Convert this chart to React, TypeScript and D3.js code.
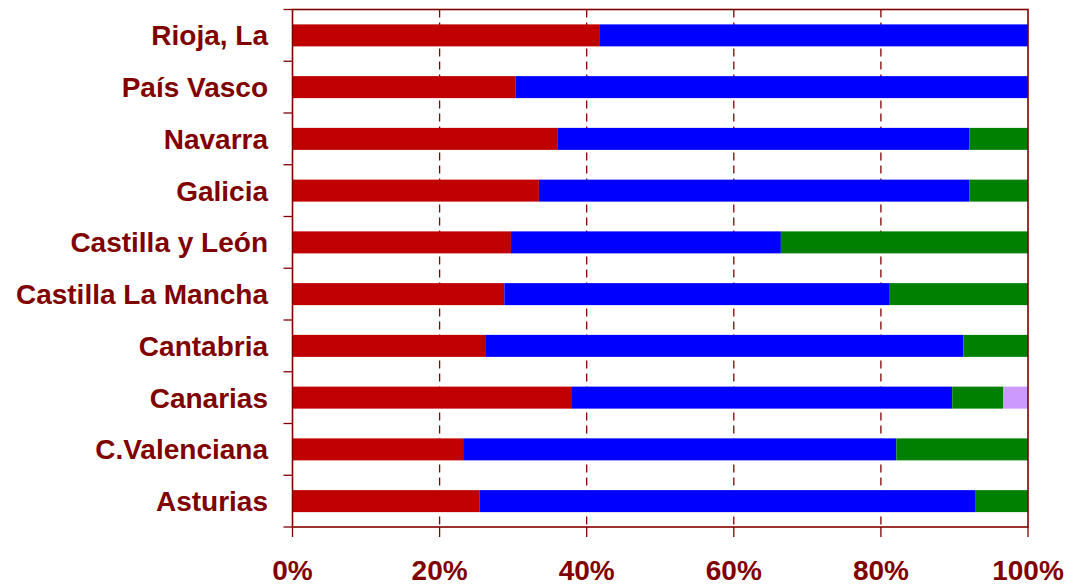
import * as d3 from "d3";
import React, { useEffect, useRef } from "react";

// categories, bottom to top as in the chart
const regions = [
  "Asturias",
  "C.Valenciana",
  "Canarias",
  "Cantabria",
  "Castilla La Mancha",
  "Castilla y León",
  "Galicia",
  "Navarra",
  "País Vasco",
  "Rioja, La",
];

// series shares (%), same order as regions
const serieRed = [25.4, 23.2, 38.0, 26.2, 28.8, 29.7, 33.5, 36.0, 30.3, 41.7];
const serieBlue = [67.4, 58.9, 51.7, 65.0, 52.3, 36.7, 58.5, 56.0, 69.7, 58.3];
const serieGreen = [7.2, 17.9, 6.9, 8.8, 18.9, 33.6, 8.0, 8.0, 0, 0];
const serieLilac = [0, 0, 3.4, 0, 0, 0, 0, 0, 0, 0];

const tickValues = [0, 0.2, 0.4, 0.6, 0.8, 1];

const seriesKeys = ["red", "blue", "green", "lilac"];
const colors = ["#C00000", "#0000FF", "#008000", "#CC99FF"];

const W = 1073;
const H = 585;
const DARK = "#800000";
const FONT = "'Liberation Sans', Arial, sans-serif";

const App = () => {
  const svgRef = useRef<SVGSVGElement>(null);

  useEffect(() => {
    const svg = d3.select(svgRef.current);
    svg.selectAll("*").remove();

    const margin = { top: 9.5, right: 45, bottom: 58, left: 292.5 };

    const rows = regions.map((name, i) => ({
      name,
      red: serieRed[i],
      blue: serieBlue[i],
      green: serieGreen[i],
      lilac: serieLilac[i],
    }));

    // normalise so every bar reaches 100%
    const stacked = d3
      .stack<any>()
      .keys(seriesKeys)
      .offset(d3.stackOffsetExpand)(rows);

    const x = d3
      .scaleLinear()
      .domain([0, 1])
      .range([margin.left, W - margin.right]);

    // top of the chart is the last category
    const y = d3
      .scaleBand()
      .domain([...regions].reverse())
      .range([margin.top, H - margin.bottom])
      .paddingInner(0.575)
      .paddingOuter(0.2875);

    const bandStep = y.step();
    const [y0, y1] = [margin.top, H - margin.bottom];

    // gridlines
    svg
      .append("g")
      .selectAll("line")
      .data(tickValues.slice(1, -1))
      .enter()
      .append("line")
      .attr("x1", (d) => x(d))
      .attr("x2", (d) => x(d))
      .attr("y1", y0)
      .attr("y2", y1)
      .attr("stroke", DARK)
      .attr("stroke-width", 1.3)
      .attr("stroke-dasharray", "8,5");

    // bars
    svg
      .append("g")
      .selectAll("g")
      .data(stacked)
      .enter()
      .append("g")
      .attr("fill", (_d, i) => colors[i])
      .selectAll("rect")
      .data((d) => d)
      .enter()
      .append("rect")
      .attr("x", (d) => x(d[0]))
      .attr("y", (d) => y(d.data.name)!)
      .attr("width", (d) => Math.max(0, x(d[1]) - x(d[0])))
      .attr("height", y.bandwidth());

    // frame
    svg
      .append("rect")
      .attr("x", margin.left)
      .attr("y", y0)
      .attr("width", x(1) - x(0))
      .attr("height", y1 - y0)
      .attr("fill", "none")
      .attr("stroke", DARK)
      .attr("stroke-width", 1.6);

    // left ticks on category boundaries
    const boundaries = d3.range(regions.length + 1).map((i) => y0 + i * bandStep);
    svg
      .append("g")
      .selectAll("line")
      .data(boundaries)
      .enter()
      .append("line")
      .attr("x1", margin.left - 9)
      .attr("x2", margin.left)
      .attr("y1", (d) => d)
      .attr("y2", (d) => d)
      .attr("stroke", DARK)
      .attr("stroke-width", 1.3);

    // category labels
    svg
      .append("g")
      .selectAll("text")
      .data(regions)
      .enter()
      .append("text")
      .attr("x", margin.left - 24.5)
      .attr("y", (d) => y(d)! + y.bandwidth() / 2)
      .attr("dy", "0.36em")
      .attr("text-anchor", "end")
      .attr("fill", DARK)
      .attr("font-family", FONT)
      .attr("font-weight", "bold")
      .attr("font-size", 28)
      .text((d) => d);

    // bottom ticks + labels
    const xAxis = svg.append("g");
    xAxis
      .selectAll("line")
      .data(tickValues)
      .enter()
      .append("line")
      .attr("x1", (d) => x(d))
      .attr("x2", (d) => x(d))
      .attr("y1", y1)
      .attr("y2", y1 + 10)
      .attr("stroke", DARK)
      .attr("stroke-width", 1.3);

    xAxis
      .selectAll("text")
      .data(tickValues)
      .enter()
      .append("text")
      .attr("x", (d) => x(d))
      .attr("y", 580)
      .attr("text-anchor", "middle")
      .attr("fill", DARK)
      .attr("font-family", FONT)
      .attr("font-weight", "bold")
      .attr("font-size", 28)
      .text((d) => d3.format(".0%")(d));
  }, []);

  return (
    <svg
      ref={svgRef}
      width={W}
      height={H}
      viewBox={`0 0 ${W} ${H}`}
      style={{ position: "absolute", left: 0, top: 0, background: "#fff" }}
    />
  );
};

export default App;
